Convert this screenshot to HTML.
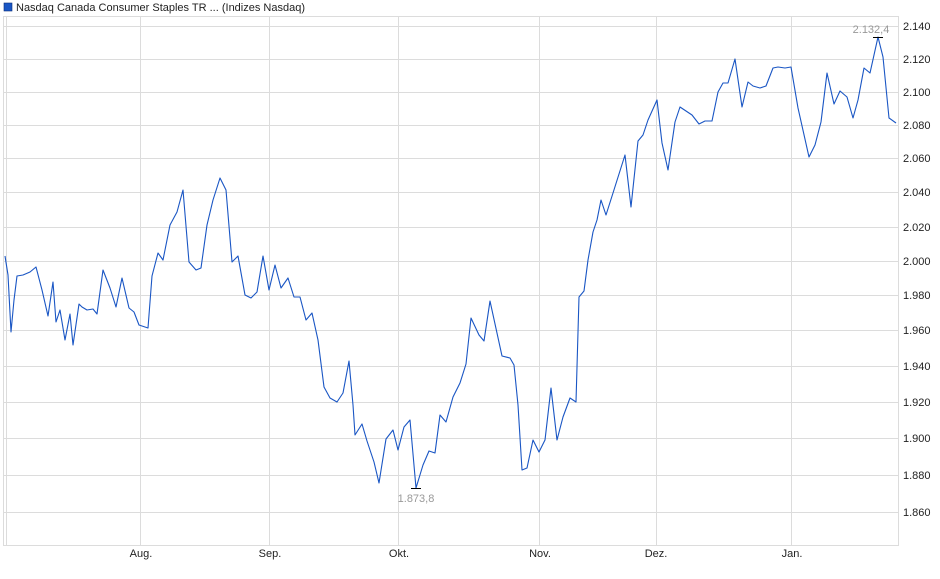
<!DOCTYPE html>
<html><head><meta charset="utf-8"><style>
body{margin:0;background:#fff;}
svg{display:block;font-family:"Liberation Sans",Arial,sans-serif;}
</style></head><body>
<svg width="940" height="579" viewBox="0 0 940 579" xmlns="http://www.w3.org/2000/svg">
<rect x="0" y="0" width="940" height="579" fill="#fff"/>
<rect x="4" y="3" width="8" height="8" fill="#1a56c4" stroke="#0a2e7a" stroke-width="0.6"/>
<text x="16" y="11" font-size="11" fill="#222">Nasdaq Canada Consumer Staples TR ... (Indizes Nasdaq)</text>
<g stroke="#dcdcdc" stroke-width="1" fill="none">
<rect x="3.5" y="16.5" width="895" height="529"/>
<line x1="6.5" y1="16" x2="6.5" y2="546"/>
<line x1="140.5" y1="16" x2="140.5" y2="546"/>
<line x1="269.5" y1="16" x2="269.5" y2="546"/>
<line x1="398.5" y1="16" x2="398.5" y2="546"/>
<line x1="539.5" y1="16" x2="539.5" y2="546"/>
<line x1="656.5" y1="16" x2="656.5" y2="546"/>
<line x1="791.5" y1="16" x2="791.5" y2="546"/>
<line x1="4" y1="26.5" x2="898" y2="26.5"/>
<line x1="4" y1="59.5" x2="898" y2="59.5"/>
<line x1="4" y1="92.5" x2="898" y2="92.5"/>
<line x1="4" y1="125.5" x2="898" y2="125.5"/>
<line x1="4" y1="158.5" x2="898" y2="158.5"/>
<line x1="4" y1="192.5" x2="898" y2="192.5"/>
<line x1="4" y1="227.5" x2="898" y2="227.5"/>
<line x1="4" y1="261.5" x2="898" y2="261.5"/>
<line x1="4" y1="295.5" x2="898" y2="295.5"/>
<line x1="4" y1="330.5" x2="898" y2="330.5"/>
<line x1="4" y1="366.5" x2="898" y2="366.5"/>
<line x1="4" y1="402.5" x2="898" y2="402.5"/>
<line x1="4" y1="438.5" x2="898" y2="438.5"/>
<line x1="4" y1="475.5" x2="898" y2="475.5"/>
<line x1="4" y1="512.5" x2="898" y2="512.5"/>
</g>
<g font-size="11" fill="#222">
<text x="903" y="30">2.140</text><text x="903" y="63">2.120</text><text x="903" y="96">2.100</text>
<text x="903" y="129">2.080</text><text x="903" y="162">2.060</text><text x="903" y="196">2.040</text>
<text x="903" y="231">2.020</text><text x="903" y="265">2.000</text><text x="903" y="299">1.980</text>
<text x="903" y="334">1.960</text><text x="903" y="370">1.940</text><text x="903" y="406">1.920</text>
<text x="903" y="442">1.900</text><text x="903" y="479">1.880</text><text x="903" y="516">1.860</text>
<g text-anchor="middle">
<text x="141" y="557">Aug.</text><text x="270" y="557">Sep.</text><text x="399" y="557">Okt.</text>
<text x="540" y="557">Nov.</text><text x="656" y="557">Dez.</text><text x="792" y="557">Jan.</text>
</g></g>
<polyline fill="none" stroke="#1a56c4" stroke-width="1.1" stroke-linejoin="round" points="5,256 8,275 11,332 14,300 17,276 23,275 30,272 36,267 42,290 48,316 53,282 56,322 60,310 65,340 70,314 73,345 79,304 82,307 87,310 93,309 97,314 103,270 110,288 116,307 122,278 129,308 134,312 139,325 145,327 148,328 152,276 158,253 163,260 170,225 177,212 183,190 189,262 196,270 201,268 207,225 213,200 220,178 226,190 232,262 238,256 245,295 251,298 257,292 263,256 269,290 275,265 281,288 288,278 294,297 300,297 306,320 312,313 318,340 324,387 330,398 337,402 343,393 349,361 353,405 355,435 362,424 367,441 374,462 379,483 386,439 393,430 398,450 404,427 410,420 416,488 423,465 429,451 435,453 440,415 446,422 453,397 460,383 466,364 471,318 479,335 484,341 490,301 502,356 510,358 514,365 518,405 522,470 527,468 533,440 539,452 545,440 551,388 557,440 563,417 570,398 576,402 579,297 584,291 588,260 593,232 597,220 601,200 606,215 613,193 625,155 631,207 638,141 643,135 648,120 657,100 662,143 668,170 675,122 680,107 692,115 699,124 705,121 712,121 718,92 723,83 728,83 735,59 742,107 748,82 753,86 760,88 766,86 773,68 778,67 785,68 791,67 798,108 809,157 815,145 821,122 827,73 834,104 840,91 847,97 853,118 858,100 864,68 870,73 878,37 883,57 889,118 896,123"/>
<line x1="411" y1="488.5" x2="421" y2="488.5" stroke="#000" stroke-width="1"/>
<line x1="873" y1="37.5" x2="883" y2="37.5" stroke="#000" stroke-width="1"/>
<text x="416" y="502" font-size="11" fill="#999" text-anchor="middle">1.873,8</text>
<text x="871" y="33" font-size="11" fill="#999" text-anchor="middle">2.132,4</text>
</svg>
</body></html>
